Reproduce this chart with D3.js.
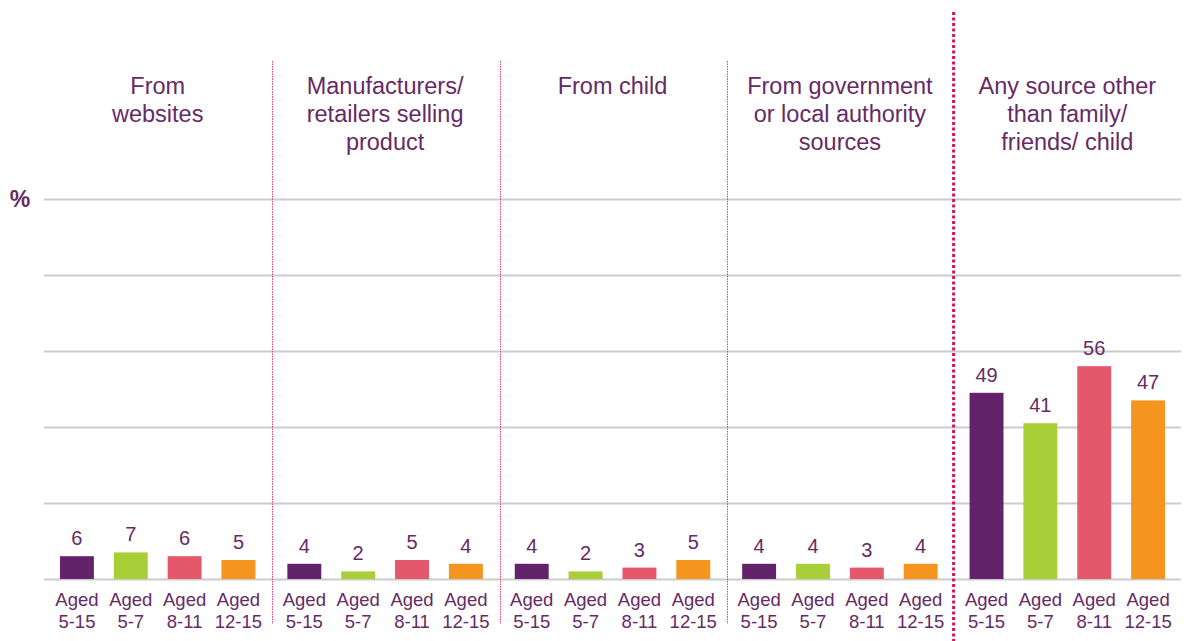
<!DOCTYPE html>
<html>
<head>
<meta charset="utf-8">
<script src="https://cdn.jsdelivr.net/npm/d3@7"></script>
<style>
  html, body { margin: 0; padding: 0; background: #ffffff; }
  svg { display: block; font-family: "Liberation Sans", Arial, sans-serif; }
</style>
</head>
<body>
<svg id="chart" width="1184" height="641"></svg>
<script>
// Sources of information, by age group (%)
const groups = ["websites", "manufacturers", "child", "government", "anySource"];
const groupTitles = [
  ["From", "websites"],
  ["Manufacturers/", "retailers selling", "product"],
  ["From child"],
  ["From government", "or local authority", "sources"],
  ["Any source other", "than family/", "friends/ child"]
];
const ages = ["Aged 5-15", "Aged 5-7", "Aged 8-11", "Aged 12-15"];
const ageLines = [["Aged", "5-15"], ["Aged", "5-7"], ["Aged", "8-11"], ["Aged", "12-15"]];
const websites      = [6, 7, 6, 5];
const manufacturers = [4, 2, 5, 4];
const child         = [4, 2, 3, 5];
const government    = [4, 4, 3, 4];
const anySource     = [49, 41, 56, 47];
const yTicks = [0, 20, 40, 60, 80, 100];

const seriesByGroup = [websites, manufacturers, child, government, anySource];
const colors = ["#62236a", "#a9cf38", "#e5576a", "#f5951f"];
const textColor = "#662a66";

const svg = d3.select("#chart");
const plotLeft = 44, plotRight = 1181, plotTop = 199, plotBottom = 579;

const x0 = d3.scaleBand().domain(groups).range([plotLeft, plotRight]).padding(0);
const gw = x0.bandwidth();
const x1 = d3.scaleBand().domain(ages).range([6, gw - 6]).paddingInner(0.37).paddingOuter(0.185);
const y = d3.scaleLinear().domain([0, 100]).range([plotBottom, plotTop]);

// Horizontal gridlines
svg.append("g")
  .attr("transform", `translate(${plotLeft},0)`)
  .call(d3.axisLeft(y).tickValues(yTicks).tickSize(-(plotRight - plotLeft)).tickFormat(""))
  .call(g => g.select(".domain").remove())
  .call(g => g.selectAll(".tick line").attr("stroke", "#cbcbcb").attr("stroke-width", 2));

// "%" axis label
svg.append("text")
  .attr("x", 20).attr("y", y(100) + 8)
  .attr("text-anchor", "middle")
  .attr("font-size", 23).attr("font-weight", "bold")
  .attr("fill", textColor)
  .text("%");

// Group dividers
groups.slice(1).forEach((g, i) => {
  const isLast = i === groups.length - 2;
  const xd = isLast ? x0(g) : Math.round(x0(g)) + 1.5;
  svg.append("line")
    .attr("x1", xd).attr("x2", xd)
    .attr("y1", isLast ? 12 : 61)
    .attr("y2", isLast ? 641 : 624)
    .attr("stroke", isLast ? "#d4145a" : "#e0457a")
    .attr("stroke-width", isLast ? 3 : 1)
    .attr("stroke-dasharray", isLast ? "3,2.5" : "1.5,1");
});

// Group titles
groups.forEach((g, gi) => {
  const t = svg.append("text")
    .attr("x", x0(g) + gw / 2)
    .attr("y", 94)
    .attr("text-anchor", "middle")
    .attr("font-size", 23.5)
    .attr("fill", textColor);
  groupTitles[gi].forEach((line, li) => {
    t.append("tspan")
      .attr("x", x0(g) + gw / 2)
      .attr("y", 94 + li * 28)
      .text(line);
  });
});

// Bars, value labels and category labels
groups.forEach((g, gi) => {
  const gEl = svg.append("g").attr("transform", `translate(${x0(g)},0)`);
  const vals = seriesByGroup[gi];

  gEl.selectAll("rect")
    .data(vals)
    .join("rect")
    .attr("x", (d, i) => x1(ages[i]))
    .attr("width", x1.bandwidth())
    .attr("y", d => y(d))
    .attr("height", d => y(0) - y(d))
    .attr("fill", (d, i) => colors[i]);

  gEl.selectAll("text.value")
    .data(vals)
    .join("text")
    .attr("class", "value")
    .attr("x", (d, i) => x1(ages[i]) + x1.bandwidth() / 2)
    .attr("y", d => y(d) - 11)
    .attr("text-anchor", "middle")
    .attr("font-size", 20)
    .attr("fill", textColor)
    .text(d => d);

  ages.forEach((a, i) => {
    const cx = x1(a) + x1.bandwidth() / 2;
    const t = gEl.append("text")
      .attr("text-anchor", "middle")
      .attr("font-size", 18.5)
      .attr("fill", textColor);
    ageLines[i].forEach((line, li) => {
      t.append("tspan").attr("x", cx).attr("y", 606 + li * 22).text(line);
    });
  });
});
</script>
</body>
</html>
